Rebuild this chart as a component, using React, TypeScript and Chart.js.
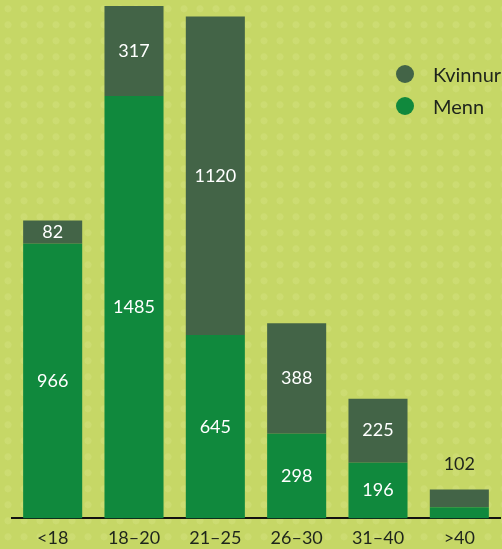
import React, { useEffect, useRef } from "react";
import { Chart, registerables } from "chart.js";

Chart.register(...registerables);

const categories = ["<18", "18–20", "21–25", "26–30", "31–40", ">40"];
const menn = [966, 1485, 645, 298, 196, 39];
const kvinnur = [82, 317, 1120, 388, 225, 63];
const totalsLabelOnly = [false, false, false, false, false, true];
const totals = [1048, 1802, 1765, 686, 421, 102];

const BG = "#c6d766";
const C_MENN = "#10893d";
const C_KV = "#436447";
const FONT = "Lato, 'Open Sans', sans-serif";

const labelPlugin = {
  id: "segLabels",
  afterDatasetsDraw(chart: any) {
    const ctx = chart.ctx;
    ctx.save();
    ctx.font = `18px ${FONT}`;
    ctx.textAlign = "center";
    ctx.textBaseline = "middle";
    const m0 = chart.getDatasetMeta(0);
    const m1 = chart.getDatasetMeta(1);
    categories.forEach((_, i) => {
      const b0 = m0.data[i];
      const b1 = m1.data[i];
      if (totalsLabelOnly[i]) {
        ctx.fillStyle = "#1e241c";
        ctx.fillText(String(totals[i]), b1.x, b1.y - 25);
        return;
      }
      ctx.fillStyle = "#ffffff";
      ctx.fillText(String(menn[i]), b0.x, (b0.y + b0.base) / 2);
      ctx.fillText(String(kvinnur[i]), b1.x, (b1.y + b1.base) / 2);
    });
    ctx.restore();
  },
};

export default function App() {
  const ref = useRef<HTMLCanvasElement | null>(null);
  useEffect(() => {
    document.body.style.margin = "0";
    const chart = new Chart(ref.current!, {
      type: "bar",
      data: {
        labels: categories,
        datasets: [
          { label: "Menn", data: menn, backgroundColor: C_MENN, barPercentage: 0.726, categoryPercentage: 1 },
          { label: "Kvinnur", data: kvinnur, backgroundColor: C_KV, barPercentage: 0.726, categoryPercentage: 1 },
        ],
      },
      options: {
        animation: false,
        responsive: true,
        maintainAspectRatio: false,
        layout: { padding: { left: 12, right: 2, top: 0, bottom: 0 } },
        plugins: { legend: { display: false }, tooltip: { enabled: false } },
        scales: {
          x: {
            stacked: true,
            grid: { display: false, drawTicks: false },
            border: { display: true, color: "#111", width: 2 },
            ticks: { color: "#1e241c", font: { family: FONT, size: 18 }, padding: 9 },
          },
          y: { stacked: true, display: false, min: 0, max: 1823 },
        },
      },
      plugins: [labelPlugin],
    });
    return () => chart.destroy();
  }, []);

  return (
    <div
      style={{
        position: "relative",
        width: 502,
        height: 549,
        backgroundColor: BG,
        backgroundImage: "radial-gradient(circle at 50% 55%, rgba(212,226,128,0.45) 0 3px, transparent 4px)",
        backgroundSize: "16px 16px",
        overflow: "hidden",
      }}
    >
      <div style={{ position: "absolute", left: 0, top: 0, width: 502, height: 558 }}>
        <canvas ref={ref} />
      </div>
      <div style={{ position: "absolute", left: 396, top: 63, fontFamily: FONT, fontSize: 20, color: "#1e241c", whiteSpace: "nowrap" }}>
        <div style={{ display: "flex", alignItems: "center", height: 22, marginBottom: 10 }}>
          <span style={{ width: 18, height: 18, borderRadius: 9, background: C_KV, display: "inline-block", marginRight: 19 }} />
          Kvinnur
        </div>
        <div style={{ display: "flex", alignItems: "center", height: 22 }}>
          <span style={{ width: 18, height: 18, borderRadius: 9, background: C_MENN, display: "inline-block", marginRight: 19 }} />
          Menn
        </div>
      </div>
    </div>
  );
}
